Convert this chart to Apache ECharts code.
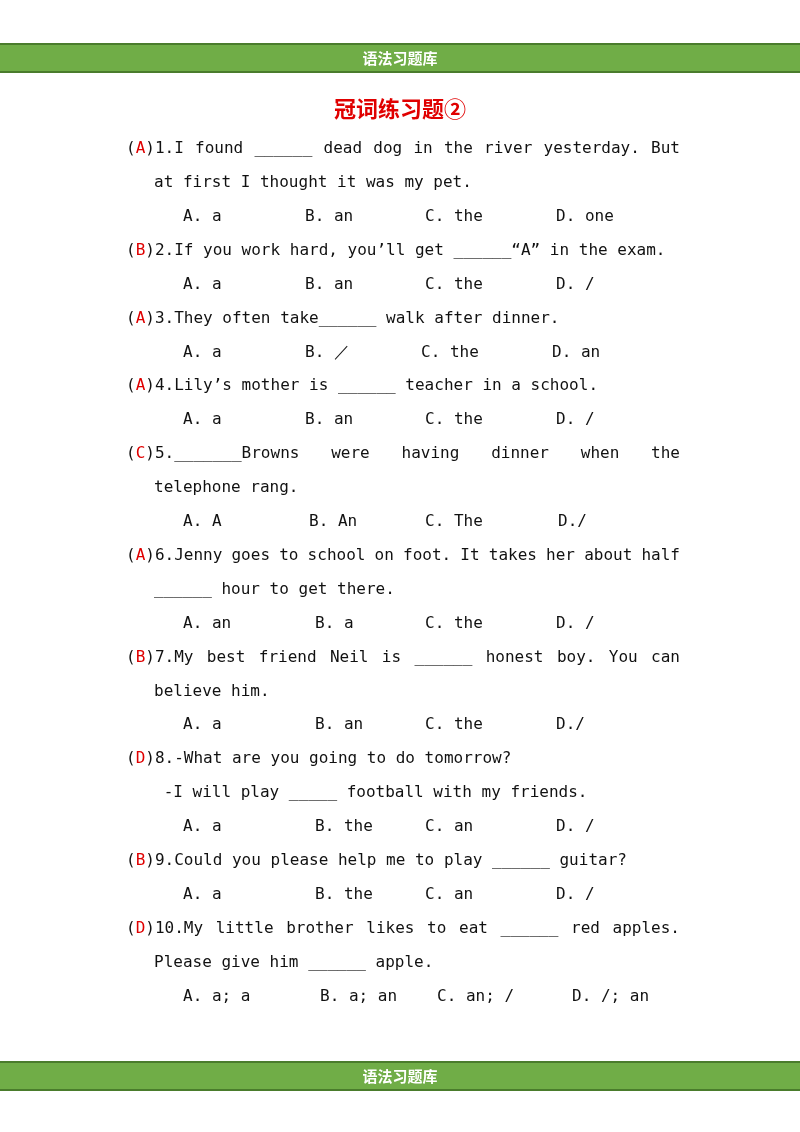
<!DOCTYPE html>
<html>
<head>
<meta charset="utf-8">
<script src="https://cdn.jsdelivr.net/npm/echarts@6/dist/echarts.min.js"></script>
<style>html,body{margin:0;padding:0;background:#fff}#page{width:800px;height:1132px}</style>
</head>
<body>
<div id="page"></div>
<script>
// 题目数据
const headerText = '语法习题库';
const titleText = '冠词练习题②';
const answers = ['A', 'B', 'A', 'A', 'C', 'A', 'B', 'D', 'B', 'D'];
const stems = [
    ['1.I found ______ dead dog in the river yesterday. But', 'at first I thought it was my pet.'],
    ['2.If you work hard, you\u2019ll get ______\u201cA\u201d in the exam.'],
    ['3.They often take______ walk after dinner.'],
    ['4.Lily\u2019s mother is ______ teacher in a school.'],
    ['5._______Browns were having dinner when the', 'telephone rang.'],
    ['6.Jenny goes to school on foot. It takes her about half', '______ hour to get there.'],
    ['7.My best friend Neil is ______ honest boy. You can', 'believe him.'],
    ['8.-What are you going to do tomorrow?', ' -I will play _____ football with my friends.'],
    ['9.Could you please help me to play ______ guitar?'],
    ['10.My little brother likes to eat ______ red apples.', 'Please give him ______ apple.']
];
const choices = [
    ['A. a', 'B. an', 'C. the', 'D. one'],
    ['A. a', 'B. an', 'C. the', 'D. /'],
    ['A. a', 'B. \uff0f', 'C. the', 'D. an'],
    ['A. a', 'B. an', 'C. the', 'D. /'],
    ['A. A', 'B. An', 'C. The', 'D./'],
    ['A. an', 'B. a', 'C. the', 'D. /'],
    ['A. a', 'B. an', 'C. the', 'D./'],
    ['A. a', 'B. the', 'C. an', 'D. /'],
    ['A. a', 'B. the', 'C. an', 'D. /'],
    ['A. a; a', 'B. a; an', 'C. an; /', 'D. /; an']
];
// 版式
const justified = [true, false, false, false, true, true, true, false, false, true];
const choiceX = [
    [183, 305, 425, 556], [183, 305, 425, 556], [183, 305, 421, 552], [183, 305, 425, 556],
    [183, 309, 425, 558], [183, 315, 425, 556], [183, 315, 425, 556], [183, 315, 425, 556],
    [183, 315, 425, 556], [183, 320, 437, 572]
];

const FONT = '16px "DejaVu Sans Mono"';
const ctx = document.createElement('canvas').getContext('2d');
ctx.font = FONT;
const measure = s => ctx.measureText(s).width;

const chart = echarts.init(document.getElementById('page'), null, {renderer: 'canvas'});
const g = [];
const green = '#70ad47', dark = '#4a7c2c';

function bar(y) {
    g.push({type: 'rect', shape: {x: 0, y: y, width: 800, height: 30}, style: {fill: green}});
    g.push({type: 'rect', shape: {x: 0, y: y, width: 800, height: 2}, style: {fill: dark}});
    g.push({type: 'rect', shape: {x: 0, y: y + 28, width: 800, height: 2}, style: {fill: dark}});
    g.push({type: 'text', x: 400, y: y + 15, style: {text: headerText, fill: '#fff',
        font: 'bold 15px "Noto Sans CJK SC"', align: 'center', verticalAlign: 'middle'}});
}
bar(43);
bar(1061);

g.push({type: 'text', x: 400, y: 109, style: {text: titleText, fill: '#e00000',
    font: 'bold 22px "Noto Sans CJK SC"', align: 'center', verticalAlign: 'middle'}});

function txt(s, x, y, rich) {
    const style = {text: s, x: x, y: y, font: FONT, fill: '#111', verticalAlign: 'middle'};
    if (rich) {
        style.rich = {r: {fill: '#e00000', font: FONT}, k: {fill: '#111', font: FONT}};
    }
    g.push({type: 'text', style: style});
}

let y = 149;
const step = 33.9;
stems.forEach((lines, i) => {
    const first = lines[0];
    if (justified[i]) {
        const words = ('(' + answers[i] + ')' + first).split(' ');
        const widths = words.map(measure);
        const gap = (680 - 126 - widths.reduce((a, b) => a + b, 0)) / (words.length - 1);
        let x = 126;
        words.forEach((w, k) => {
            if (k === 0) {
                txt('{k|(}{r|' + answers[i] + '}{k|)' + w.slice(3) + '}', x, y, true);
            } else {
                txt(w, x, y);
            }
            x += widths[k] + gap;
        });
    } else {
        txt('{k|(}{r|' + answers[i] + '}{k|)' + first + '}', 126, y, true);
    }
    y += step;
    if (lines[1]) {
        txt(lines[1], 154, y);
        y += step;
    }
    choices[i].forEach((c, k) => txt(c, choiceX[i][k], y));
    y += step;
});

chart.setOption({animation: false, graphic: {elements: g}});
</script>
</body>
</html>
